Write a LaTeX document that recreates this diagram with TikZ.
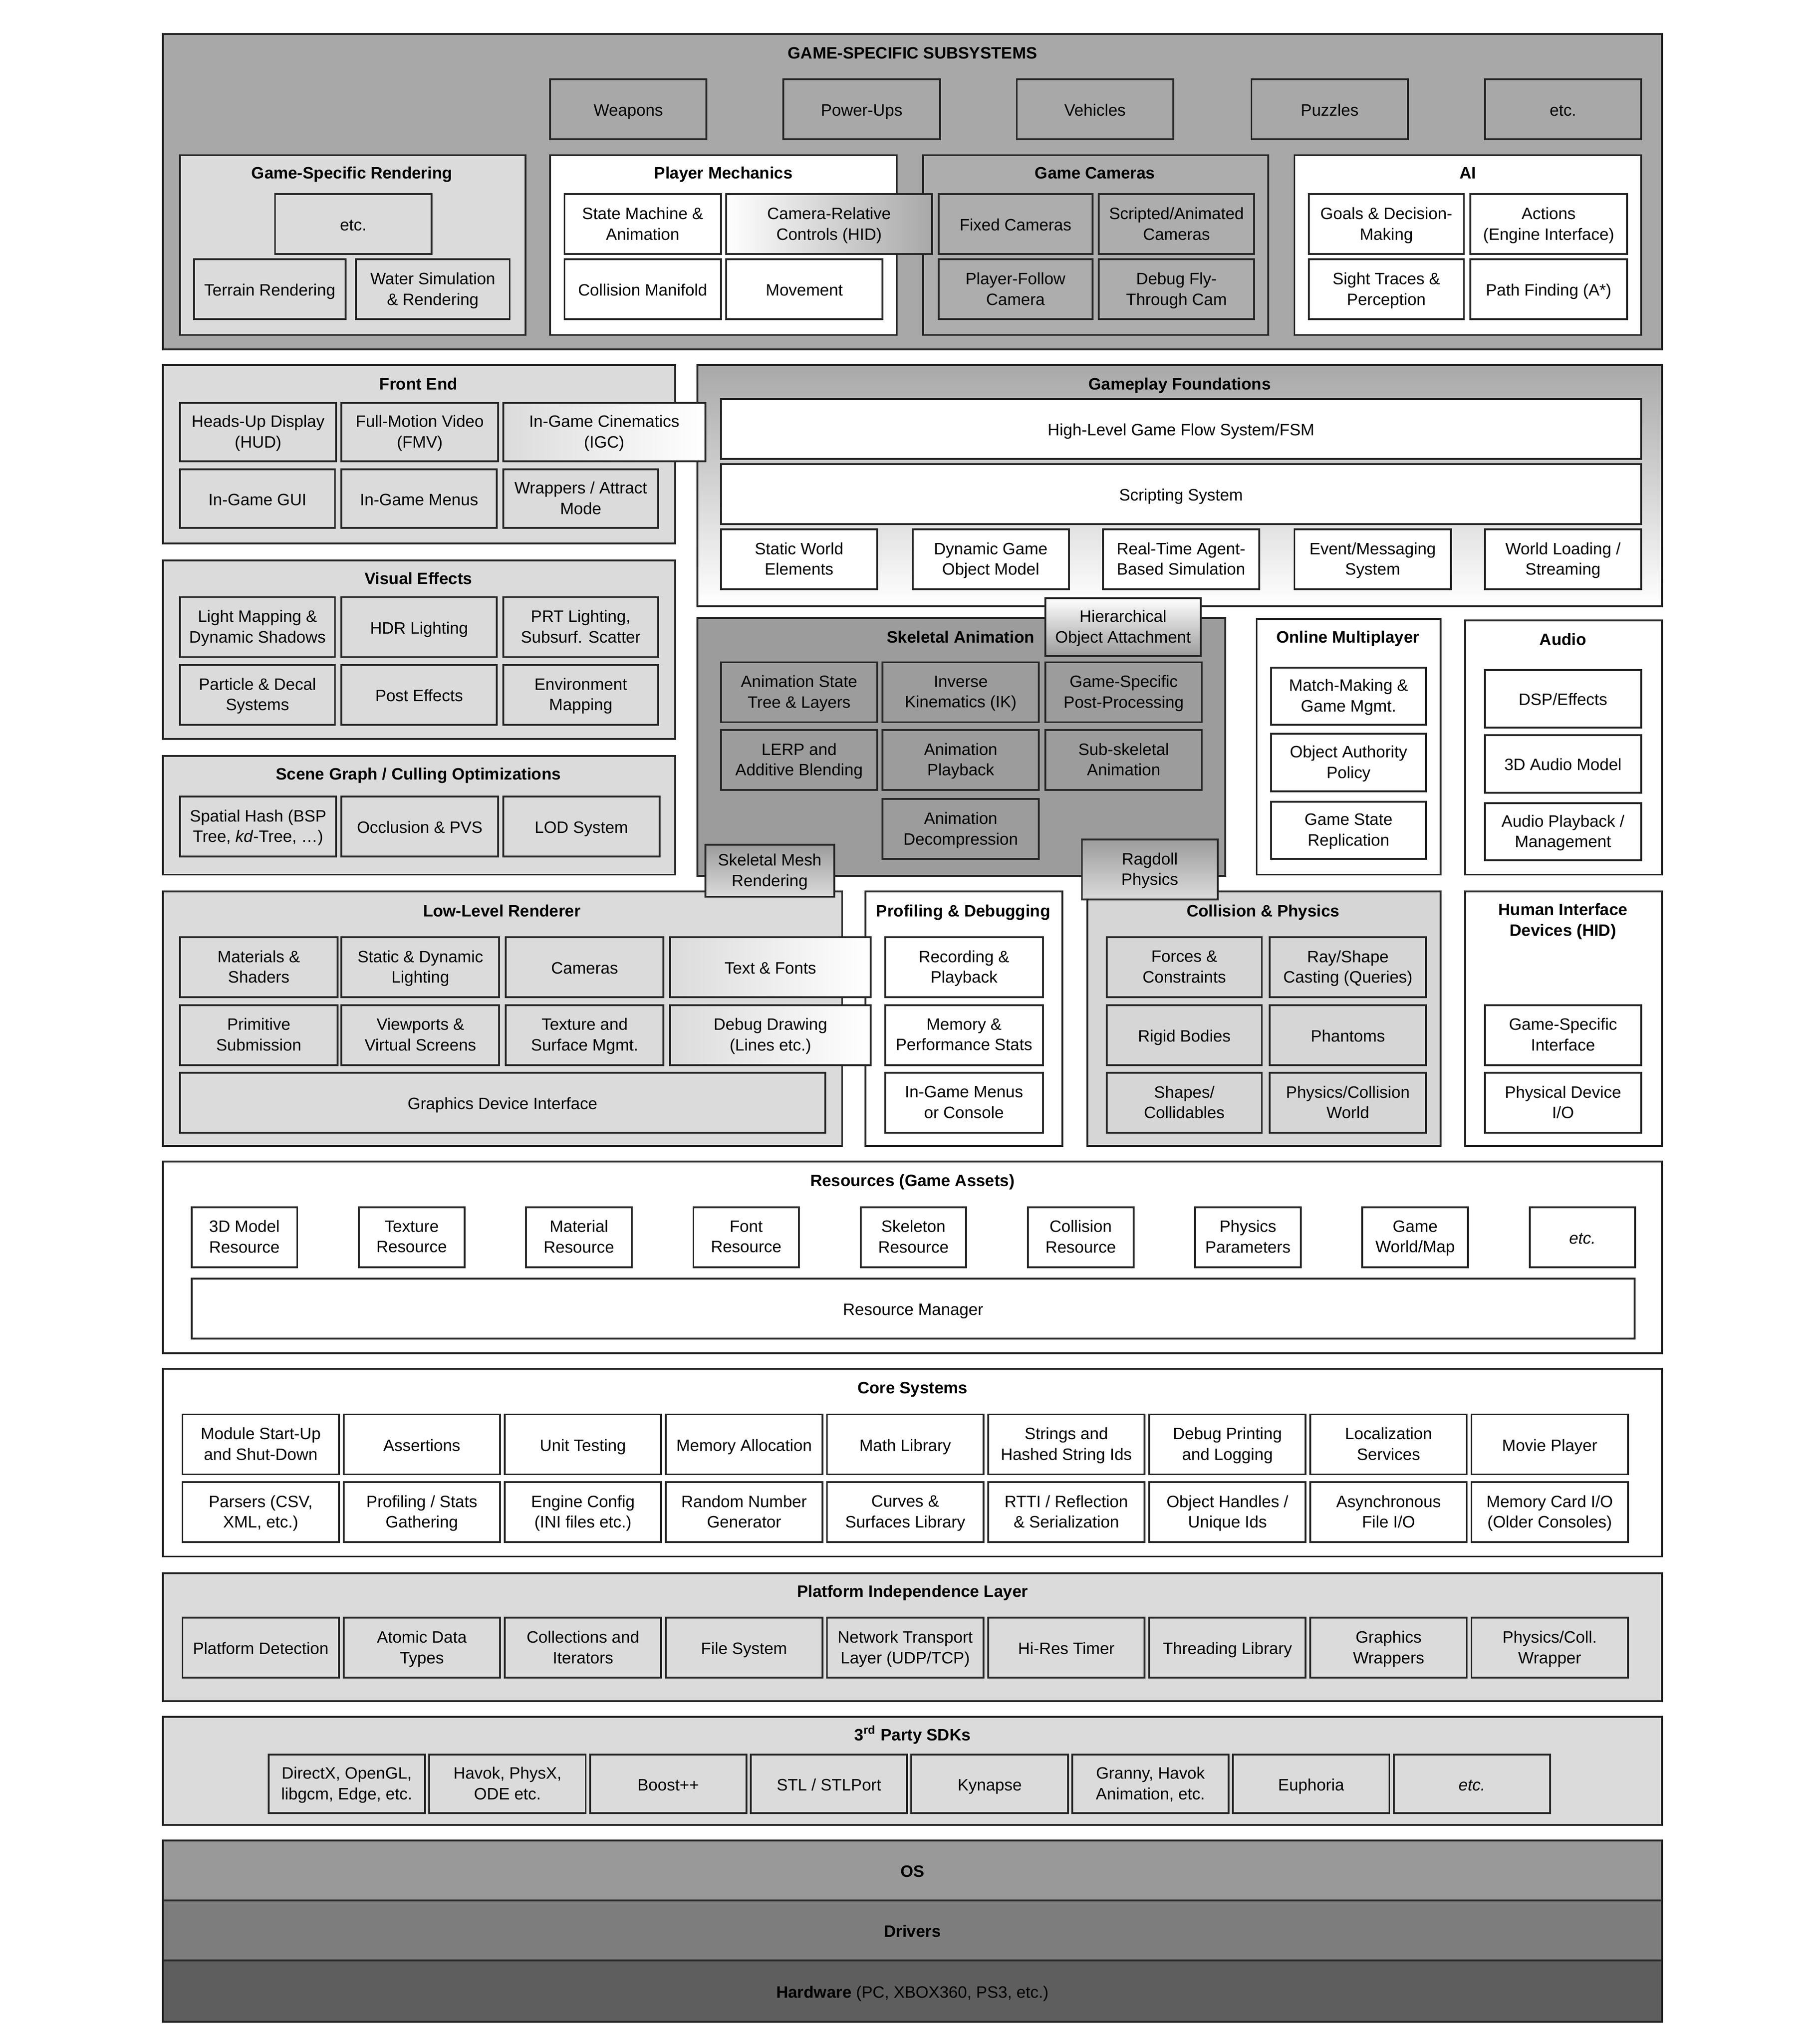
\documentclass[tikz,border=0pt]{standalone}
\usepackage{fontspec}
\setmainfont{Liberation Sans}
\definecolor{gmid}{gray}{0.66}
\definecolor{gcam}{gray}{0.68}
\definecolor{glight}{gray}{0.86}
\definecolor{gcoll}{gray}{0.84}
\definecolor{gdark}{gray}{0.61}
\definecolor{gos}{gray}{0.6}
\definecolor{gdrv}{gray}{0.49}
\definecolor{ghw}{gray}{0.37}
\begin{document}
\begin{tikzpicture}[x=0.02cm, y=-0.02cm,
	box/.style={draw=black!85, line width=0.8pt},
	txt/.style={font=\fontsize{7.2}{9}\selectfont, align=center, inner sep=0pt, yshift=-1.1pt, execute at begin node=\strut, execute at end node=\strut},
	head/.style={txt, font=\fontsize{7.2}{9}\selectfont\bfseries}]
	\useasboundingbox (0,0) rectangle (1392,1568);

	% game-specific subsystems
	\draw[box, fill=gmid] (125,26) rectangle (1275,268);
	\node[head] (gss) at (700,40) {GAME-SPECIFIC SUBSYSTEMS};
	\foreach \x/\t/\n in {422/Weapons/wpn, 601/Power-Ups/pwr, 780/Vehicles/veh, 960/Puzzles/puz, 1139/etc./gsetc} {
		\draw[box, fill=gmid] (\x,61) rectangle node[txt] (\n) {\t} (\x+120,107);
	}

	\draw[box, fill=glight] (138,119) rectangle (403,257);
	\node[head] (gsr) at (270,132) {Game-Specific Rendering};
	\draw[box, fill=glight] (211,149) rectangle node[txt] (gsretc) {etc.} (331,195);
	\draw[box, fill=glight] (149,199) rectangle node[txt] (terrain) {Terrain Rendering} (265,245);
	\draw[box, fill=glight] (273,199) rectangle node[txt] (water) {Water Simulation\\\& Rendering} (391,245);

	\draw[box, fill=white] (422,119) rectangle (688,257);
	\node[head] (pm) at (555,132) {Player Mechanics};
	\draw[box, fill=white] (433,149) rectangle node[txt] (fsm) {State Machine \&\\Animation} (553,195);
	\draw[box, fill=white] (433,199) rectangle node[txt] (manifold) {Collision Manifold} (553,245);
	\draw[box, fill=white] (557,199) rectangle node[txt] (movement) {Movement} (677,245);

	\draw[box, fill=gcam] (708,119) rectangle (973,257);
	\node[head] (gcams) at (840,132) {Game Cameras};
	\draw[box, fill=gcam] (720,149) rectangle node[txt] (fixedcam) {Fixed Cameras} (838,195);
	\draw[box, fill=gcam] (843,149) rectangle node[txt] (scriptcam) {Scripted/Animated\\Cameras} (962,195);
	\draw[box, fill=gcam] (720,199) rectangle node[txt] (followcam) {Player-Follow\\Camera} (838,245);
	\draw[box, fill=gcam] (843,199) rectangle node[txt] (flycam) {Debug Fly-\\Through Cam} (962,245);

	\draw[box, fill=white] (993,119) rectangle (1259,257);
	\node[head] (ai) at (1126,132) {AI};
	\draw[box, fill=white] (1004,149) rectangle node[txt] (goals) {Goals \& Decision-\\Making} (1123,195);
	\draw[box, fill=white] (1128,149) rectangle node[txt] (actions) {Actions\\(Engine Interface)} (1248,195);
	\draw[box, fill=white] (1004,199) rectangle node[txt] (sight) {Sight Traces \&\\Perception} (1123,245);
	\draw[box, fill=white] (1128,199) rectangle node[txt] (pathfind) {Path Finding (A*)} (1248,245);

	% front end
	\draw[box, fill=glight] (125,280) rectangle (518,417);
	\node[head] (fe) at (321,294) {Front End};
	\draw[box, fill=glight] (138,309) rectangle node[txt] (hud) {Heads-Up Display\\(HUD)} (258,354);
	\draw[box, fill=glight] (262,309) rectangle node[txt] (fmv) {Full-Motion Video\\(FMV)} (382,354);
	\foreach \x/\t/\n in {138/{In-Game GUI}/gui, 262/{In-Game Menus}/menus, 386/{Wrappers / Attract\\Mode}/attract} {
		\draw[box, fill=glight] (\x,360) rectangle node[txt] (\n) {\t} (\x+119,405);
	}

	% gameplay foundations
	\draw[box, top color=gmid, bottom color=white] (535,280) rectangle (1275,465);
	\node[head] (gpf) at (905,294) {Gameplay Foundations};
	\draw[box, fill=white] (553,306) rectangle node[txt] (flow) {High-Level Game Flow System/FSM} (1259,352);
	\draw[box, fill=white] (553,356) rectangle node[txt] (script) {Scripting System} (1259,402);
	\foreach \x/\t/\n in {553/{Static World\\Elements}/staticw, 700/{Dynamic Game\\Object Model}/gom, 846/{Real-Time Agent-\\Based Simulation}/agent, 993/{Event/Messaging\\System}/events, 1139/{World Loading /\\Streaming}/streaming} {
		\draw[box, fill=white] (\x,406) rectangle node[txt] (\n) {\t} (\x+120,452);
	}

	% visual effects
	\draw[box, fill=glight] (125,430) rectangle (518,567);
	\node[head] (vfx) at (321,443) {Visual Effects};
	\foreach \x/\t/\n in {138/{Light Mapping \&\\Dynamic Shadows}/lightmap, 262/{HDR Lighting}/hdr, 386/{PRT Lighting,\\Subsurf. Scatter}/prt} {
		\draw[box, fill=glight] (\x,458) rectangle node[txt] (\n) {\t} (\x+119,504);
	}
	\foreach \x/\t/\n in {138/{Particle \& Decal\\Systems}/particles, 262/{Post Effects}/post, 386/{Environment\\Mapping}/envmap} {
		\draw[box, fill=glight] (\x,510) rectangle node[txt] (\n) {\t} (\x+119,556);
	}

	% scene graph
	\draw[box, fill=glight] (125,580) rectangle (518,671);
	\node[head] (scene) at (321,593) {Scene Graph / Culling Optimizations};
	\foreach \x/\t/\n in {138/{Spatial Hash (BSP\\Tree, \textit{kd}-Tree, \dots)}/spatial, 262/{Occlusion \& PVS}/pvs, 386/{LOD System}/lod} {
		\draw[box, fill=glight] (\x,611) rectangle node[txt] (\n) {\t} (\x+120,657);
	}

	% skeletal animation
	\draw[box, fill=gdark] (535,474) rectangle (940,672);
	\node[head] (skel) at (737,488) {Skeletal Animation};
	\foreach \x/\t/\n in {553/{Animation State\\Tree \& Layers}/animtree, 677/{Inverse\\Kinematics (IK)}/ik, 802/{Game-Specific\\Post-Processing}/postproc} {
		\draw[box, fill=gdark] (\x,508) rectangle node[txt] (\n) {\t} (\x+120,554);
	}
	\foreach \x/\t/\n in {553/{LERP and\\Additive Blending}/lerp, 677/{Animation\\Playback}/playback, 802/{Sub-skeletal\\Animation}/subskel} {
		\draw[box, fill=gdark] (\x,560) rectangle node[txt] (\n) {\t} (\x+120,606);
	}
	\draw[box, fill=gdark] (677,613) rectangle node[txt] (decomp) {Animation\\Decompression} (797,659);

	% online multiplayer, audio
	\draw[box, fill=white] (964,475) rectangle (1105,671);
	\node[head] (online) at (1034,488) {Online Multiplayer};
	\foreach \y/\t/\n in {512/{Match-Making \&\\Game Mgmt.}/matchmaking, 563/{Object Authority\\Policy}/authority, 615/{Game State\\Replication}/replication} {
		\draw[box, fill=white] (975,\y) rectangle node[txt] (\n) {\t} (1094,\y+44);
	}
	\draw[box, fill=white] (1124,476) rectangle (1275,671);
	\node[head] (audio) at (1199,490) {Audio};
	\foreach \y/\t/\n in {514/{DSP/Effects}/dsp, 564/{3D Audio Model}/audio3d, 616/{Audio Playback /\\Management}/audioplay} {
		\draw[box, fill=white] (1139,\y) rectangle node[txt] (\n) {\t} (1259,\y+44);
	}

	% low-level renderer
	\draw[box, fill=glight] (125,684) rectangle (646,879);
	\node[head] (llr) at (385,698) {Low-Level Renderer};
	\foreach \x/\t/\n in {138/{Materials \&\\Shaders}/materials, 262/{Static \& Dynamic\\Lighting}/lighting, 388/{Cameras}/cameras} {
		\draw[box, fill=glight] (\x,719) rectangle node[txt] (\n) {\t} (\x+121,765);
	}
	\foreach \x/\t/\n in {138/{Primitive\\Submission}/primitive, 262/{Viewports \&\\Virtual Screens}/viewports, 388/{Texture and\\Surface Mgmt.}/texmgmt} {
		\draw[box, fill=glight] (\x,771) rectangle node[txt] (\n) {\t} (\x+121,817);
	}
	\draw[box, fill=glight] (138,823) rectangle node[txt] (gdi) {Graphics Device Interface} (633,869);

	% profiling and debugging
	\draw[box, fill=white] (664,684) rectangle (815,879);
	\node[head] (prof) at (739,698) {Profiling \& Debugging};
	\foreach \y/\t/\n in {719/{Recording \&\\Playback}/recording, 771/{Memory \&\\Performance Stats}/memstats, 823/{In-Game Menus\\or Console}/console} {
		\draw[box, fill=white] (679,\y) rectangle node[txt] (\n) {\t} (800,\y+46);
	}

	% collision and physics
	\draw[box, fill=gcoll] (834,684) rectangle (1105,879);
	\node[head] (coll) at (969,698) {Collision \& Physics};
	\foreach \y/\ta/\tb/\n in {719/{Forces \&\\Constraints}/{Ray/Shape\\Casting (Queries)}/1, 771/{Rigid Bodies}/{Phantoms}/2, 823/{Shapes/\\Collidables}/{Physics/Collision\\World}/3} {
		\draw[box, fill=gcoll] (849,\y) rectangle node[txt] (phys\n a) {\ta} (968,\y+46);
		\draw[box, fill=gcoll] (974,\y) rectangle node[txt] (phys\n b) {\tb} (1094,\y+46);
	}

	% human interface devices
	\draw[box, fill=white] (1124,684) rectangle (1275,879);
	\node[head] (hid) at (1199,706) {Human Interface\\Devices (HID)};
	\draw[box, fill=white] (1139,771) rectangle node[txt] (hidgame) {Game-Specific\\Interface} (1259,817);
	\draw[box, fill=white] (1139,823) rectangle node[txt] (hidio) {Physical Device\\I/O} (1259,869);

	% resources
	\draw[box, fill=white] (125,891) rectangle (1275,1038);
	\node[head] (res) at (700,905) {Resources (Game Assets)};
	\foreach \i/\t in {0/{3D Model\\Resource}, 1/{Texture\\Resource}, 2/{Material\\Resource}, 3/{Font\\Resource}, 4/{Skeleton\\Resource}, 5/{Collision\\Resource}, 6/{Physics\\Parameters}, 7/{Game\\World/Map}, 8/{\textit{etc.}}} {
		\draw[box, fill=white] (147+128.3*\i,926) rectangle node[txt] (res\i) {\t} (228+128.3*\i,972);
	}
	\draw[box, fill=white] (147,981) rectangle node[txt] (resmgr) {Resource Manager} (1254,1027);

	% core systems
	\draw[box, fill=white] (125,1050) rectangle (1275,1194);
	\node[head] (core) at (700,1064) {Core Systems};
	\foreach \i/\t in {0/{Module Start-Up\\and Shut-Down}, 1/{Assertions}, 2/{Unit Testing}, 3/{Memory Allocation}, 4/{Math Library}, 5/{Strings and\\Hashed String Ids}, 6/{Debug Printing\\and Logging}, 7/{Localization\\Services}, 8/{Movie Player}} {
		\draw[box, fill=white] (140+123.6*\i,1085) rectangle node[txt] (corea\i) {\t} (260+123.6*\i,1131);
	}
	\foreach \i/\t in {0/{Parsers (CSV,\\XML, etc.)}, 1/{Profiling / Stats\\Gathering}, 2/{Engine Config\\(INI files etc.)}, 3/{Random Number\\Generator}, 4/{Curves \&\\Surfaces Library}, 5/{RTTI / Reflection\\\& Serialization}, 6/{Object Handles /\\Unique Ids}, 7/{Asynchronous\\File I/O}, 8/{Memory Card I/O\\(Older Consoles)}} {
		\draw[box, fill=white] (140+123.6*\i,1137) rectangle node[txt] (coreb\i) {\t} (260+123.6*\i,1183);
	}

	% platform independence layer
	\draw[box, fill=glight] (125,1207) rectangle (1275,1305);
	\node[head] (pil) at (700,1220) {Platform Independence Layer};
	\foreach \i/\t in {0/{Platform Detection}, 1/{Atomic Data\\Types}, 2/{Collections and\\Iterators}, 3/{File System}, 4/{Network Transport\\Layer (UDP/TCP)}, 5/{Hi-Res Timer}, 6/{Threading Library}, 7/{Graphics\\Wrappers}, 8/{Physics/Coll.\\Wrapper}} {
		\draw[box, fill=glight] (140+123.6*\i,1241) rectangle node[txt] (pil\i) {\t} (260+123.6*\i,1287);
	}

	% 3rd party sdks
	\draw[box, fill=glight] (125,1317) rectangle (1275,1400);
	\node[head] (sdk) at (700,1330) {3\textsuperscript{rd} Party SDKs};
	\foreach \i/\t in {0/{DirectX, OpenGL,\\libgcm, Edge, etc.}, 1/{Havok, PhysX,\\ODE etc.}, 2/{Boost++}, 3/{STL / STLPort}, 4/{Kynapse}, 5/{Granny, Havok\\Animation, etc.}, 6/{Euphoria}, 7/{\textit{etc.}}} {
		\draw[box, fill=glight] (206+123.3*\i,1346) rectangle node[txt] (sdk\i) {\t} (326+123.3*\i,1391);
	}

	% os, drivers, hardware
	\draw[box, fill=gos] (125,1412) rectangle node[head] (os) {OS} (1275,1458);
	\draw[box, fill=gdrv] (125,1458) rectangle node[head] (drivers) {Drivers} (1275,1504);
	\draw[box, fill=ghw] (125,1504) rectangle node[txt] (hw) {\textbf{Hardware} (PC, XBOX360, PS3, etc.)} (1275,1551);

	% boxes that straddle two layers
	\draw[box, left color=white, right color=gmid] (557,149) rectangle node[txt] (camrel) {Camera-Relative\\Controls (HID)} (715,195);
	\draw[box, left color=glight, right color=white] (386,309) rectangle node[txt] (igc) {In-Game Cinematics\\(IGC)} (541,354);
	\draw[box, top color=white, bottom color=gdark] (802,459) rectangle node[txt] (attach) {Hierarchical\\Object Attachment} (921,503);
	\draw[box, top color=gdark, bottom color=glight] (541,648) rectangle node[txt] (skinmesh) {Skeletal Mesh\\Rendering} (640,688);
	\draw[box, top color=gdark, bottom color=glight] (830,644) rectangle node[txt] (ragdoll) {Ragdoll\\Physics} (934,690);
	\draw[box, left color=glight, right color=white] (514,719) rectangle node[txt] (fonts) {Text \& Fonts} (668,765);
	\draw[box, left color=glight, right color=white] (514,771) rectangle node[txt] (debugdraw) {Debug Drawing\\(Lines etc.)} (668,817);
\end{tikzpicture}
\end{document}
